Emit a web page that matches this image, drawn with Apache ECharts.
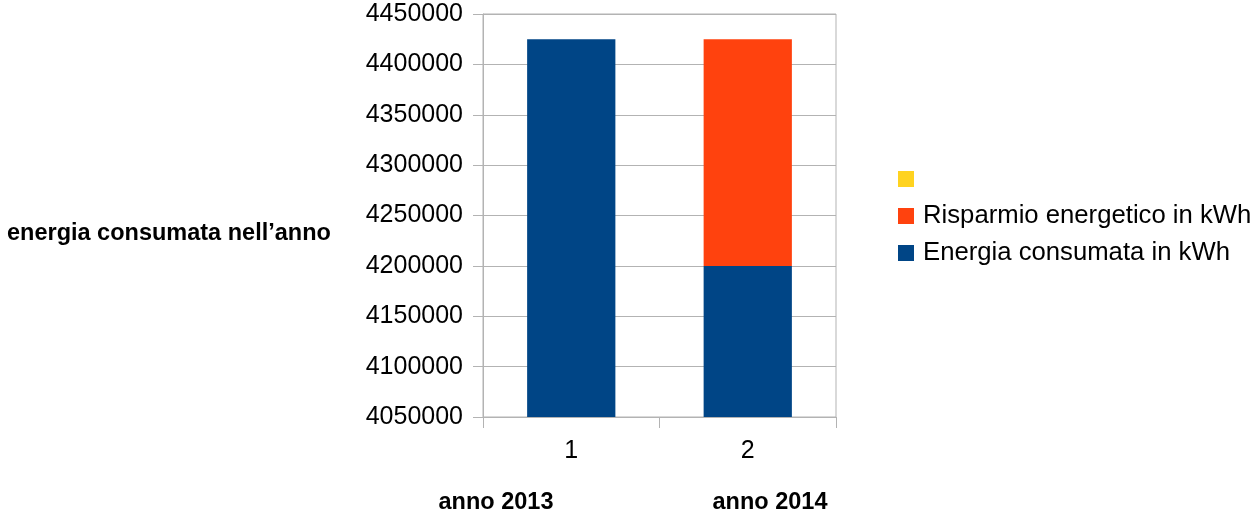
<!DOCTYPE html>
<html>
<head>
<meta charset="utf-8">
<script src="https://cdn.jsdelivr.net/npm/echarts@6/dist/echarts.min.js"></script>
<style>
  html, body { margin: 0; padding: 0; background: #fff; }
  #chart { width: 1256px; height: 519px; }
</style>
</head>
<body>
<div id="chart"></div>
<script>
// dati del grafico
const categorie = ['1', '2']
const energiaConsumata = [4425000, 4200000]
const risparmioEnergetico = [0, 225000]
const serieVuota = [0, 0]
const etichetteAnni = ['anno 2013', 'anno 2014']
const titoloAsseY = 'energia consumata nell\u2019anno'

const nomeEnergia = 'Energia consumata in kWh'
const nomeRisparmio = 'Risparmio energetico in kWh'
const nomeVuoto = ' '

const font = '"Liberation Sans", Arial, sans-serif'
const grigio = '#b3b3b3'

const chart = echarts.init(document.getElementById('chart'))

const options = {
  animation: false,
  textStyle: { fontFamily: font },
  // area del grafico
  grid: {
    left: 483,
    right: 420,
    top: 14,
    bottom: 102,
    show: true,
    borderColor: grigio,
    borderWidth: 1
  },
  // legenda a destra
  legend: {
    orient: 'vertical',
    left: 893,
    top: 161,
    itemWidth: 16,
    itemHeight: 16,
    itemGap: 11,
    icon: 'rect',
    data: [nomeVuoto, nomeRisparmio, nomeEnergia],
    textStyle: { fontSize: 25.7, lineHeight: 26, color: '#000', fontFamily: font, padding: [0, 0, 0, 4] },
    selectedMode: false
  },
  xAxis: {
    type: 'category',
    data: categorie,
    axisLine: { lineStyle: { color: grigio } },
    axisTick: { show: true, length: 11, lineStyle: { color: grigio } },
    axisLabel: { fontSize: 25, color: '#000', margin: 22, fontFamily: font }
  },
  yAxis: {
    type: 'value',
    min: 4050000,
    max: 4450000,
    interval: 50000,
    axisLine: { show: true, lineStyle: { color: grigio } },
    axisTick: { show: true, length: 10, lineStyle: { color: grigio } },
    axisLabel: {
      fontSize: 25,
      color: '#000',
      margin: 20,
      fontFamily: font,
      // niente separatore delle migliaia
      formatter: (v) => String(v)
    },
    splitLine: { lineStyle: { color: grigio } }
  },
  series: [
    {
      name: nomeEnergia,
      type: 'bar',
      stack: 'totale',
      barWidth: '50%',
      itemStyle: { color: '#004586' },
      data: energiaConsumata
    },
    {
      name: nomeRisparmio,
      type: 'bar',
      stack: 'totale',
      itemStyle: { color: '#ff420e' },
      data: risparmioEnergetico
    },
    {
      name: nomeVuoto,
      type: 'bar',
      stack: 'totale',
      itemStyle: { color: '#ffd320' },
      data: serieVuota
    }
  ],
  // testi in grassetto
  graphic: [
    {
      type: 'text',
      left: 7,
      top: 222,
      style: { text: titoloAsseY, font: 'bold 23.5px ' + font, fill: '#000' }
    },
    {
      type: 'text',
      x: 496,
      y: 503,
      style: { text: etichetteAnni[0], font: 'bold 23.5px ' + font, fill: '#000', align: 'center', verticalAlign: 'middle', textAlign: 'center', textVerticalAlign: 'middle' }
    },
    {
      type: 'text',
      x: 770,
      y: 503,
      style: { text: etichetteAnni[1], font: 'bold 23.5px ' + font, fill: '#000', align: 'center', verticalAlign: 'middle', textAlign: 'center', textVerticalAlign: 'middle' }
    }
  ]
}

chart.setOption(options)
</script>
</body>
</html>
